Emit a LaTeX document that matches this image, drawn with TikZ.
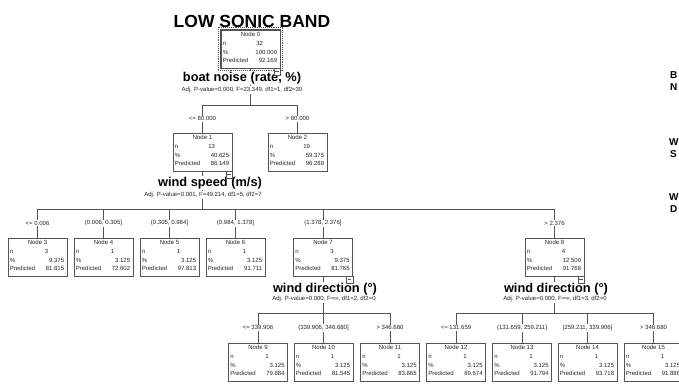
\documentclass[tikz,border=0pt]{standalone}
\usepackage{fontspec}
\setmainfont{Liberation Sans}
\definecolor{linec}{gray}{0.33}
\definecolor{boxc}{gray}{0.33}
\definecolor{txtc}{gray}{0.15}
\tikzset{
  box/.style={draw=boxc, line width=0.7pt, minimum width=59pt, minimum height=38pt, inner sep=0pt, fill=white},
  txt/.style={font=\fontsize{6}{6}\selectfont, inner sep=0pt, text=txtc},
  brl/.style={font=\fontsize{6}{6}\selectfont, fill=white, inner sep=1pt, text=txtc},
  vt/.style={font=\bfseries\fontsize{12.8}{13}\selectfont, inner sep=0.8pt, fill=white},
  st/.style={font=\fontsize{6}{6}\selectfont, inner sep=0.8pt, text=txtc, fill=white},
  ln/.style={draw=linec, line width=0.7pt},
  side/.style={font=\bfseries\fontsize{10}{10}\selectfont, inner sep=0pt, anchor=west},
}
\newcommand\tnode[7]{%
  \node[box] (#1) at (#2,#3+19) {};
  \node[txt,anchor=base] (#1-h) at ([yshift=-7]#1.north) {Node #4};
  \node[txt,anchor=base west] (#1-nl) at ([xshift=2,yshift=-16]#1.north west) {n};
  \node[txt,anchor=base] (#1-nv) at ([xshift=39,yshift=-16]#1.north west) {#5};
  \node[txt,anchor=base west] (#1-pl) at ([xshift=2,yshift=-24.5]#1.north west) {\%};
  \node[txt,anchor=base east] (#1-pv) at ([xshift=-3,yshift=-24.5]#1.north east) {#6};
  \node[txt,anchor=base west] (#1-ql) at ([xshift=2,yshift=-33]#1.north west) {Predicted};
  \node[txt,anchor=base east] (#1-qv) at ([xshift=-3,yshift=-33]#1.north east) {#7};
}
\newcommand\collapseicon[1]{%
  \draw[ln, line width=0.5pt, fill=white] ([xshift=-6.5]#1.south east) rectangle ([yshift=-6.5]#1.south east);
  \draw[ln, line width=0.5pt] ([xshift=-5,yshift=-3.25]#1.south east) -- ([xshift=-1.5,yshift=-3.25]#1.south east);
}
\begin{document}
\begin{tikzpicture}[x=1pt,y=-1pt]
\useasboundingbox (0,0) rectangle (679,386);
% bars
\coordinate (b0) at (250.5,105);
\coordinate (b1) at (202.5,209);
\coordinate (b7) at (323,313);
\coordinate (b8) at (554.5,313);
% nodes
\tnode{n0}{250.5}{30}{0}{32}{100.000}{92.169}
\tnode{n1}{202.5}{133}{1}{13}{40.625}{86.149}
\tnode{n2}{297.5}{133}{2}{19}{59.375}{96.288}
\tnode{n3}{37.5}{238}{3}{3}{9.375}{81.815}
\tnode{n4}{103.5}{238}{4}{1}{3.125}{72.602}
\tnode{n5}{169.5}{238}{5}{1}{3.125}{97.813}
\tnode{n6}{235.5}{238}{6}{1}{3.125}{91.711}
\tnode{n7}{323}{238}{7}{3}{9.375}{81.765}
\tnode{n8}{554.5}{238}{8}{4}{12.500}{91.768}
\tnode{n9}{258}{343}{9}{1}{3.125}{79.884}
\tnode{n10}{323.5}{343}{10}{1}{3.125}{81.545}
\tnode{n11}{390}{343}{11}{1}{3.125}{83.865}
\tnode{n12}{456}{343}{12}{1}{3.125}{89.674}
\tnode{n13}{522}{343}{13}{1}{3.125}{91.794}
\tnode{n14}{587.5}{343}{14}{1}{3.125}{93.718}
\tnode{n15}{653.5}{343}{15}{1}{3.125}{91.886}
% selection frame of node 0
\draw[boxc, line width=1.4pt] (n0.north west) rectangle (n0.south east);
\draw[boxc, line width=0.9pt, densely dotted] ([xshift=-2.5,yshift=2.5]n0.north west) rectangle ([xshift=2.5,yshift=-2.5]n0.south east);
% connectors
\draw[ln] (n0.south) -- (b0);
\draw[ln] (n1.north |- b0) -- (n2.north |- b0);
\draw[ln] (n1.south) -- (b1);
\draw[ln] (n3.north |- b1) -- (n8.north |- b1);
\draw[ln] (n7.south) -- (b7);
\draw[ln] (n9.north |- b7) -- (n11.north |- b7);
\draw[ln] (n8.south) -- (b8);
\draw[ln] (n12.north |- b8) -- (n15.north |- b8);
\foreach \c/\t in {n1/{<= 80.000}, n2/{> 80.000}}
  \draw[ln] (\c.north |- b0) -- node[brl] {\t} (\c.north);
\foreach \c/\t in {n3/{<= 0.006}, n4/{(0.006, 0.305]}, n5/{(0.305, 0.984]}, n6/{(0.984, 1.378]}, n7/{(1.378, 2.376]}, n8/{> 2.376}}
  \draw[ln] (\c.north |- b1) -- node[brl] {\t} (\c.north);
\foreach \c/\t in {n9/{<= 339.906}, n10/{(339.906, 346.680]}, n11/{> 346.680}}
  \draw[ln] (\c.north |- b7) -- node[brl] {\t} (\c.north);
\foreach \c/\t in {n12/{<= 131.659}, n13/{(131.659, 259.211]}, n14/{(259.211, 339.906]}, n15/{> 346.680}}
  \draw[ln] (\c.north |- b8) -- node[brl] {\t} (\c.north);
% titles
\node[font=\bfseries\fontsize{17.5}{18}\selectfont, inner sep=0pt] (title) at (252,21) {LOW SONIC BAND};
\node[vt] (v0) at (242,78) {boat noise (rate, \%)};
\node[st] (s0) at (242,90) {Adj. P-value=0.000, F=23.349, df1=1, df2=30};
\node[vt] (v1) at (210,183) {wind speed (m/s)};
\node[st] (s1) at (203,195) {Adj. P-value=0.001, F=49.214, df1=5, df2=7};
\node[vt] (v7) at (325,289) {wind direction (°)};
\node[st] (s7) at (324,299) {Adj. P-value=0.000, F=∞, df1=2, df2=0};
\node[vt] (v8) at (556,289) {wind direction (°)};
\node[st] (s8) at (555,299) {Adj. P-value=0.000, F=∞, df1=3, df2=0};
% collapse icons
\collapseicon{n0}
\collapseicon{n1}
\collapseicon{n7}
\collapseicon{n8}
% side labels at the right edge
\node[side] (r1) at (670,75) {B};
\node[side] (r2) at (670,87) {N};
\node[side] (r3) at (669,142) {W};
\node[side] (r4) at (670,154) {S};
\node[side] (r5) at (669,197) {W};
\node[side] (r6) at (670,209) {D};
\end{tikzpicture}
\end{document}
